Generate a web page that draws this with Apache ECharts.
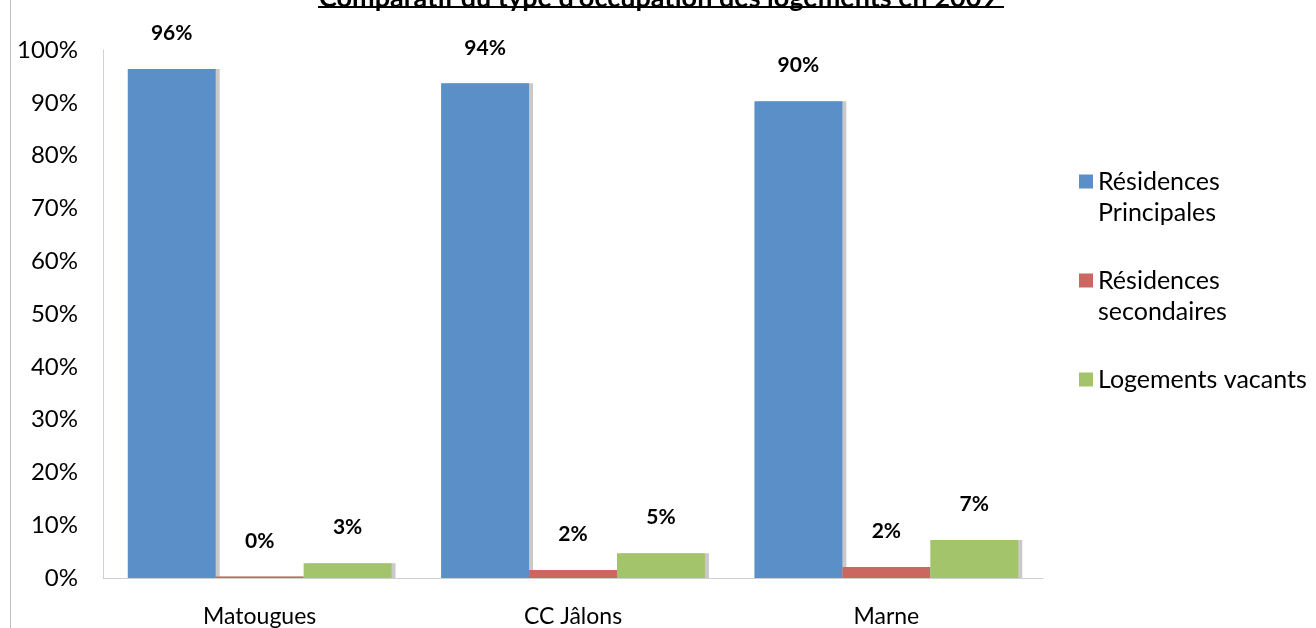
<!DOCTYPE html>
<html lang="fr">
<head>
    <meta charset="UTF-8">
    <title>Comparatif du type d'occupation des logements en 2009</title>
    <script src="https://cdn.jsdelivr.net/npm/echarts@6/dist/echarts.min.js"></script>
    <style>
        html, body { margin: 0; padding: 0; background: #fff; }
        #main { width: 1316px; height: 628px; }
    </style>
</head>
<body>
<div id="main"></div>
<script>
    // communes / territoires comparés
    var categories = ['Matougues', 'CC Jâlons', 'Marne'];
    // parts en %
    var principales = [96.4, 93.7, 90.3];
    var secondaires = [0.3, 1.5, 2.1];
    var vacants = [2.8, 4.7, 7.2];

    var fontName = 'Lato';

    var myChart = echarts.init(document.getElementById('main'));

    function barSerie(name, data, color) {
        return {
            name: name,
            type: 'bar',
            data: data,
            barGap: '0%',
            barCategoryGap: '15.8%',
            itemStyle: {
                color: color,
                shadowColor: '#c9c9c9',
                shadowOffsetX: 4,
                shadowOffsetY: 0,
                shadowBlur: 0
            },
            label: {
                show: true,
                position: 'top',
                distance: 25,
                fontFamily: fontName,
                fontWeight: 'bold',
                fontSize: 21,
                color: '#000',
                formatter: function (p) { return Math.round(p.value) + '%'; }
            }
        };
    }

    var option = {
        animation: false,
        title: {
            text: "Comparatif du type d'occupation des logements en 2009",
            left: 'center',
            top: -20,
            textStyle: { fontFamily: fontName, fontWeight: 'bold', fontSize: 27, color: '#000' }
        },
        graphic: [
            { type: 'line', shape: { x1: 318, y1: 7, x2: 1004, y2: 7 }, style: { stroke: '#000', lineWidth: 2 } },
            { type: 'line', shape: { x1: 10.5, y1: 0, x2: 10.5, y2: 628 }, style: { stroke: '#bfbfbf', lineWidth: 1 } }
        ],
        legend: {
            orient: 'vertical',
            left: 1079,
            top: 135,
            padding: 0,
            itemGap: 6,
            itemWidth: 14,
            itemHeight: 14,
            icon: 'rect',
            // ligne vide au-dessus pour que le carré soit en face de la première ligne
            formatter: function (name) {
                return name.indexOf('\n') < 0 ? ' \n' + name + '\n ' : ' \n' + name;
            },
            textStyle: { fontFamily: fontName, fontSize: 25, color: '#000', lineHeight: 31 },
            data: ['Résidences\nPrincipales', 'Résidences\nsecondaires', 'Logements vacants']
        },
        grid: { left: 103, right: 273, top: 50, bottom: 50, containLabel: false },
        xAxis: {
            type: 'category',
            data: categories,
            axisLine: { lineStyle: { color: '#d0d0d0' } },
            axisTick: { show: false },
            axisLabel: { fontFamily: fontName, fontSize: 23, color: '#000', margin: 27 }
        },
        yAxis: {
            type: 'value',
            min: 0,
            max: 100,
            interval: 10,
            axisLine: { show: true, lineStyle: { color: '#d0d0d0' } },
            axisTick: { show: false },
            splitLine: { show: false },
            axisLabel: { fontFamily: fontName, fontSize: 24, color: '#000', margin: 25, formatter: '{value}%' }
        },
        series: [
            barSerie('Résidences\nPrincipales', principales, '#5b8fc7'),
            barSerie('Résidences\nsecondaires', secondaires, '#cc6660'),
            barSerie('Logements vacants', vacants, '#a4c46b')
        ]
    };

    myChart.setOption(option);
</script>
</body>
</html>
